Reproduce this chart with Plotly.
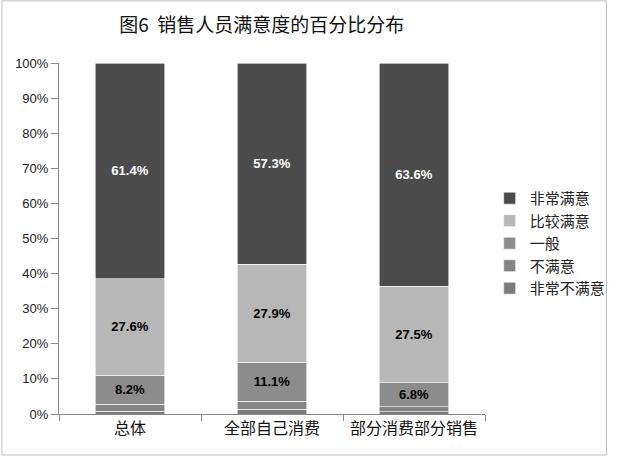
import plotly.graph_objects as go

# 三类销售人员
categories = ['总体', '全部自己消费', '部分消费部分销售']

# 满意度百分比（从下往上堆叠）
very_unsatisfied = [0.8, 1.4, 0.6]
unsatisfied = [2.0, 2.3, 1.5]
neutral = [8.2, 11.1, 6.8]
satisfied = [27.6, 27.9, 27.5]
very_satisfied = [61.4, 57.3, 63.6]

y_ticks = [0, 10, 20, 30, 40, 50, 60, 70, 80, 90, 100]
y_tick_labels = ['%d%%' % v for v in y_ticks]

series = [
    ('非常不满意', very_unsatisfied, '#7b7b7b', False, 'black'),
    ('不满意', unsatisfied, '#858585', False, 'black'),
    ('一般', neutral, '#8c8c8c', True, 'black'),
    ('比较满意', satisfied, '#b7b7b7', True, 'black'),
    ('非常满意', very_satisfied, '#4b4b4b', True, 'white'),
]

fig = go.Figure()
for name, vals, color, show_text, tcolor in series:
    fig.add_trace(go.Bar(
        x=categories, y=vals, name=name,
        marker=dict(color=color, line=dict(color='white', width=0.6)),
        text=['<b>%.1f%%</b>' % v for v in vals] if show_text else None,
        textposition='inside' if show_text else 'none',
        insidetextanchor='middle',
        textfont=dict(size=13, color=tcolor, family='Liberation Sans, Arial'),
        hoverinfo='name+y',
    ))

fig.update_layout(
    barmode='stack',
    bargap=0.51,
    width=623, height=457,
    margin=dict(l=59, r=132, t=63, b=43),
    paper_bgcolor='white', plot_bgcolor='white',
    font=dict(family='Noto Sans CJK SC', size=13, color='#222'),
    title=dict(text='图6  销售人员满意度的百分比分布', x=0.42, xref='container',
               xanchor='center', y=0.945, yanchor='middle',
               font=dict(size=19, color='#111')),
    legend=dict(x=1.011, y=0.486, yanchor='middle', xanchor='left',
                traceorder='reversed', font=dict(size=15, color='#222'),
                itemwidth=30, bgcolor='rgba(0,0,0,0)'),
    showlegend=True,
)
fig.update_xaxes(showline=True, linecolor='#888', linewidth=1,
                 ticks='outside', tickson='boundaries', ticklen=6, tickcolor='#888',
                 tickfont=dict(size=16, color='#111'), showgrid=False)
fig.update_yaxes(range=[0, 100], tickvals=y_ticks, ticktext=y_tick_labels,
                 showline=True, linecolor='#888', linewidth=1,
                 ticks='outside', ticklen=7, tickcolor='#888',
                 tickfont=dict(size=13, color='#222', family='Liberation Sans, Arial'),
                 showgrid=False, zeroline=False)

# 外框
fig.add_shape(type='rect', xref='paper', yref='paper',
              x0=-0.134, x1=1.285, y0=-0.1168, y1=1.177,
              line=dict(color='#bbb', width=1))

fig.write_html('out.html', config={'displayModeBar': False},
               post_script="document.body.style.margin='0';"
                           "document.body.style.overflow='hidden';")
